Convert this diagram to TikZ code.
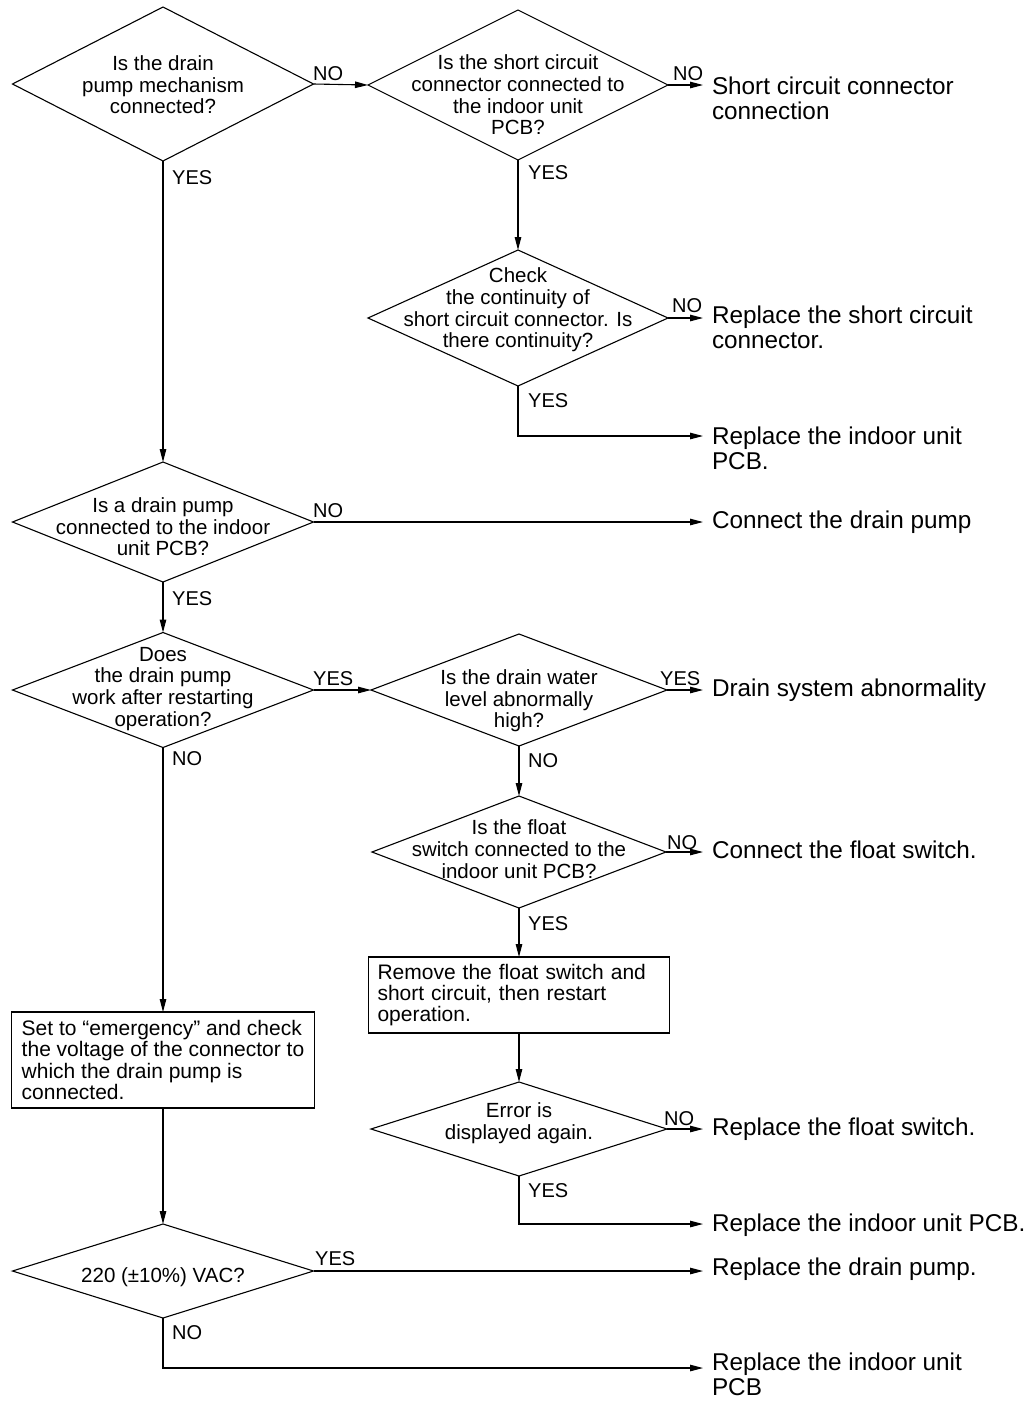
\documentclass[tikz,border=0pt]{standalone}
\usepackage{fontspec}
\setmainfont{Liberation Sans}
\usetikzlibrary{shapes.geometric,arrows.meta}
\newcommand\dq[2]{\raisebox{#1}[0pt][0pt]{\makebox[0pt]{\begin{tabular}{@{}c@{}}#2\end{tabular}}}}
\begin{document}
\begin{tikzpicture}[x=1pt,y=-1pt,
  dia/.style={draw, diamond, line width=1.1pt, font=\fontsize{20.5}{21.7}\selectfont, inner sep=0pt, outer sep=0pt},
  box/.style={draw, rectangle, line width=1.1pt, font=\fontsize{21}{21.3}\selectfont, align=left, inner xsep=8pt, inner ysep=0pt, outer sep=0pt},
  res/.style={font=\fontsize{24.3}{25}\selectfont, align=left, anchor=base west, inner xsep=9pt, inner ysep=0pt, outer sep=0pt},
  lab/.style={font=\fontsize{20}{20}\selectfont, anchor=base west, inner sep=0pt},
  arr/.style={line width=1.1pt, -{Triangle[length=13pt,width=6.5pt]}}
]
\fill[white] (0,0) rectangle (1031,1401);
\useasboundingbox (0,0) rectangle (1031,1401);

% decisions
\node[dia, minimum width=301pt, minimum height=154pt] (d1) at (163,84) {\dq{-9pt}{Is the drain\\pump mechanism\\connected?}};
\node[dia, minimum width=300pt, minimum height=150pt] (d2) at (518,85) {\dq{-18pt}{Is the short circuit\\connector connected to\\the indoor unit\\PCB?}};
\node[dia, minimum width=300pt, minimum height=136pt] (d3) at (518,318) {\dq{2pt}{Check\\the continuity of\\short circuit connector. Is\\there continuity?}};
\node[dia, minimum width=301pt, minimum height=120pt] (d4) at (163,522) {\dq{-13pt}{Is a drain pump\\connected to the indoor\\unit PCB?}};
\node[dia, minimum width=301pt, minimum height=115pt] (d5) at (163,690) {\dq{-4.5pt}{Does\\the drain pump\\work after restarting\\operation?}};
\node[dia, minimum width=296pt, minimum height=112pt] (d6) at (519,690) {\dq{-17pt}{Is the drain water\\level abnormally\\high?}};
\node[dia, minimum width=294pt, minimum height=112pt] (d7) at (519,852) {\dq{-5.5pt}{Is the float\\switch connected to the\\indoor unit PCB?}};
\node[dia, minimum width=296pt, minimum height=94pt] (d8) at (519,1129) {\dq{0pt}{Error is\\displayed again.}};
\node[dia, minimum width=301pt, minimum height=94pt] (d9) at (163,1271) {\dq{-12pt}{220 (±10\%) VAC?}};

% process boxes
\node[box, text width=283pt, inner xsep=9pt, minimum height=76pt] (b1) at (519,995) {Remove the float switch and\\short circuit, then restart\\operation.};
\node[box, minimum width=303pt, minimum height=96pt] (b2) at (163,1060) {Set to “emergency” and check\\the voltage of the connector to\\which the drain pump is\\connected.};

% results
\node[res] (r1) at (703,119.5) {Short circuit connector\\connection};
\node[res] (r2) at (703,348.5) {Replace the short circuit\\connector.};
\node[res] (r3) at (703,469.5) {Replace the indoor unit\\PCB.};
\node[res] (r4) at (703,528.5) {Connect the drain pump};
\node[res] (r5) at (703,696.5) {Drain system abnormality};
\node[res] (r6) at (703,858.5) {Connect the float switch.};
\node[res] (r7) at (703,1135.5) {Replace the float switch.};
\node[res] (r8) at (703,1231.5) {Replace the indoor unit PCB.};
\node[res] (r9) at (703,1275.5) {Replace the drain pump.};
\node[res] (r10) at (703,1395.5) {Replace the indoor unit\\PCB};

% bend coordinates
\coordinate (c3) at (518,436);
\coordinate (c8) at (519,1224);
\coordinate (c9) at (163,1368);

% connectors
\draw[arr] (d1.east) -- (d2.west);
\draw[arr] (d2.east) -- (d2.east -| r1.west);
\draw[arr] (d2.south) -- (d3.north);
\draw[arr] (d3.east) -- (d3.east -| r2.west);
\draw[arr] (d3.south) |- (c3 -| r3.west);
\draw[arr] (d1.south) -- (d4.north);
\draw[arr] (d4.east) -- (d4.east -| r4.west);
\draw[arr] (d4.south) -- (d5.north);
\draw[arr] (d5.east) -- (d6.west);
\draw[arr] (d6.east) -- (d6.east -| r5.west);
\draw[arr] (d6.south) -- (d7.north);
\draw[arr] (d7.east) -- (d7.east -| r6.west);
\draw[arr] (d7.south) -- (b1.north);
\draw[arr] (b1.south) -- (d8.north);
\draw[arr] (d8.east) -- (d8.east -| r7.west);
\draw[arr] (d8.south) |- (c8 -| r8.west);
\draw[arr] (d5.south) -- (b2.north);
\draw[arr] (b2.south) -- (d9.north);
\draw[arr] (d9.east) -- (d9.east -| r9.west);
\draw[arr] (d9.south) |- (c9 -| r10.west);

% labels
\node[lab] (l1) at (313,80) {NO};
\node[lab] (l2) at (673,80) {NO};
\node[lab] (l3) at (172,184) {YES};
\node[lab] (l4) at (528,179) {YES};
\node[lab] (l5) at (672,312) {NO};
\node[lab] (l6) at (528,407) {YES};
\node[lab] (l7) at (313,517) {NO};
\node[lab] (l8) at (172,605) {YES};
\node[lab] (l9) at (313,685) {YES};
\node[lab] (l10) at (660,685) {YES};
\node[lab] (l11) at (172,765) {NO};
\node[lab] (l12) at (528,767) {NO};
\node[lab] (l13) at (667,849) {NO};
\node[lab] (l14) at (528,930) {YES};
\node[lab] (l15) at (664,1125) {NO};
\node[lab] (l16) at (528,1197) {YES};
\node[lab] (l17) at (315,1265) {YES};
\node[lab] (l18) at (172,1339) {NO};
\end{tikzpicture}
\end{document}
